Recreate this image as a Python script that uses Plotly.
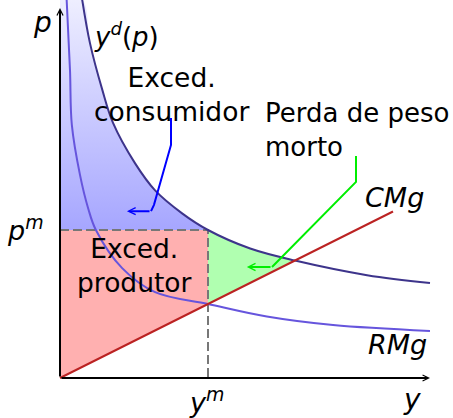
import plotly.graph_objects as go

# ---- data (quantity y, price p) ----
demand_y = [0.60, 0.81, 1.14, 1.43, 2.03, 2.57, 3.30, 4.00, 5.14, 6.35, 8.30, 10.0]
demand_p = [10.22, 9.05, 7.80, 6.90, 5.80, 5.07, 4.45, 4.00, 3.50, 3.175, 2.78, 2.57]

rmg_y = [0.18, 0.27, 0.32, 0.54, 0.76, 0.97, 1.68, 2.57, 4.00, 5.59, 7.38, 10.0]
rmg_p = [10.22, 8.32, 6.84, 5.49, 4.59, 4.00, 2.97, 2.32, 2.00, 1.66, 1.43, 1.27]

cmg_y = [0.0, 9.0]
cmg_p = [0.0, 4.5]

y_m = 4.0          # monopoly quantity
p_m = 4.0          # monopoly price
cmg_at_ym = 2.0    # marginal cost at y_m
y_c = 6.35         # demand meets CMg
p_c = 3.175
p_top = 10.22

axis_len_x = 10.0
axis_len_y = 10.0

blue_arrow_x = [3.0, 3.0, 2.54, 2.46]
blue_arrow_y = [7.03, 6.30, 4.68, 4.51]
blue_tip = (1.81, 4.51)
green_arrow_x = [8.0, 8.0, 5.73]
green_arrow_y = [6.0, 5.30, 3.0]
green_tip = (5.05, 3.0)

FONT = "DejaVu Sans"
fig = go.Figure()

# consumer surplus (gradient) : base then top
fig.add_trace(go.Scatter(x=[0, y_m], y=[p_m, p_m], mode="lines",
                         line=dict(width=0), hoverinfo="skip", showlegend=False))
cs_x = [0] + [x for x in demand_y if x <= y_m]
cs_p = [p_top] + [p for x, p in zip(demand_y, demand_p) if x <= y_m]
fig.add_trace(go.Scatter(x=cs_x, y=cs_p, mode="lines", line=dict(width=0, shape="spline"),
                         fill="tonexty",
                         fillgradient=dict(type="vertical",
                                           colorscale=[[0, "#a6a6ff"], [1, "#efefff"]]),
                         hoverinfo="skip", showlegend=False))

# deadweight loss: CMg segment then demand segment
fig.add_trace(go.Scatter(x=[y_m, y_c], y=[cmg_at_ym, p_c], mode="lines",
                         line=dict(width=0), hoverinfo="skip", showlegend=False))
dw_x = [x for x in demand_y if y_m <= x <= y_c]
dw_p = [p for x, p in zip(demand_y, demand_p) if y_m <= x <= y_c]
fig.add_trace(go.Scatter(x=dw_x, y=dw_p, mode="lines", line=dict(width=0, shape="spline"),
                         fill="tonexty", fillcolor="#b0ffb0",
                         hoverinfo="skip", showlegend=False))

# producer surplus
fig.add_trace(go.Scatter(x=[0, 0, y_m, y_m, 0], y=[0, p_m, p_m, cmg_at_ym, 0],
                         mode="lines", line=dict(width=0), fill="toself",
                         fillcolor="#ffb0b0", hoverinfo="skip", showlegend=False))

# dashed guides
fig.add_trace(go.Scatter(x=[0, y_m, y_m], y=[p_m, p_m, 0], mode="lines",
                         line=dict(color="#777777", width=2, dash="9px,4px"),
                         hoverinfo="skip", showlegend=False))

# curves
fig.add_trace(go.Scatter(x=rmg_y, y=rmg_p, mode="lines",
                         line=dict(color="#6655dd", width=2, shape="spline"),
                         hoverinfo="skip", showlegend=False))
fig.add_trace(go.Scatter(x=demand_y, y=demand_p, mode="lines",
                         line=dict(color="#3d348b", width=2, shape="spline"),
                         hoverinfo="skip", showlegend=False))
fig.add_trace(go.Scatter(x=cmg_y, y=cmg_p, mode="lines",
                         line=dict(color="#bb2222", width=2),
                         hoverinfo="skip", showlegend=False))

# pointer lines
fig.add_trace(go.Scatter(x=blue_arrow_x, y=blue_arrow_y, mode="lines",
                         line=dict(color="#0000ff", width=2),
                         hoverinfo="skip", showlegend=False))
fig.add_trace(go.Scatter(x=green_arrow_x, y=green_arrow_y, mode="lines",
                         line=dict(color="#00ee00", width=2),
                         hoverinfo="skip", showlegend=False))

ann = []
def arrow(x0, y0, x1, y1, color, width, size):
    ann.append(dict(x=x1, y=y1, ax=x0, ay=y0, xref="x", yref="y", axref="x", ayref="y",
                    text="", showarrow=True, arrowhead=5, arrowwidth=width,
                    arrowsize=size, arrowcolor=color, standoff=0, startstandoff=0))

arrow(0, 0, axis_len_x, 0, "black", 2, 0.6)
arrow(0, 0, 0, axis_len_y, "black", 2, 0.6)
arrow(blue_arrow_x[-1], blue_arrow_y[-1], blue_tip[0], blue_tip[1], "#0000ff", 2, 0.7)
arrow(green_arrow_x[-1], green_arrow_y[-1], green_tip[0], green_tip[1], "#00ee00", 2, 0.7)

def label(x, y, text, size=26, xanchor="center", align="center"):
    ann.append(dict(x=x, y=y, xref="x", yref="y", text=text, showarrow=False,
                    xanchor=xanchor, yanchor="middle", align=align,
                    font=dict(family=FONT, size=size, color="black")))

label(-0.48, 9.6, "<i>p</i>", size=28)
label(0.86, 9.27, "<i>y</i><sup><i>d</i></sup>(<i>p</i>)", size=26, xanchor="left")
label(3.0, 7.67, "Exced.<br>consumidor", size=26.5)
label(5.49, 6.7, "Perda de peso<br>morto", size=26, xanchor="left", align="left")
label(9.03, 4.87, "<i>CMg</i>", size=27)
label(-0.92, 4.05, "<i>p</i><sup><i>m</i></sup>", size=27)
label(2.0, 3.05, "Exced.<br>produtor", size=26.5)
label(9.12, 0.9, "<i>RMg</i>", size=27)
label(3.97, -0.62, "<i>y</i><sup><i>m</i></sup>", size=27)
label(9.5, -0.58, "<i>y</i>", size=28)

fig.update_layout(
    width=453, height=418, margin=dict(l=0, r=0, t=0, b=0),
    paper_bgcolor="white", plot_bgcolor="white",
    xaxis=dict(range=[-60 / 37, 393 / 37], visible=False, fixedrange=True),
    yaxis=dict(range=[-40 / 37, 378 / 37], visible=False, fixedrange=True),
    annotations=ann, showlegend=False,
)
fig.write_html("out.html", config={"displayModeBar": False},
               post_script="document.body.style.margin='0px';")
